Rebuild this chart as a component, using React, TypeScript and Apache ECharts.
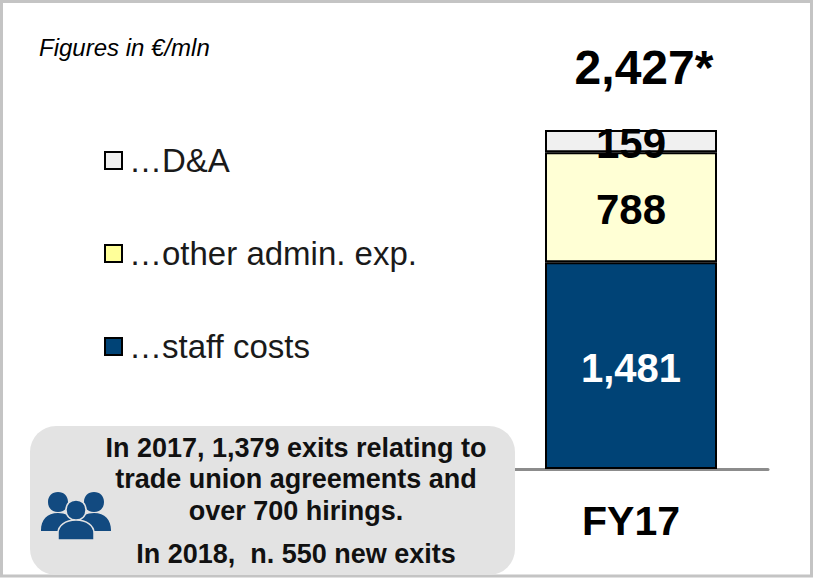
import React, { useEffect, useRef } from "react";
import * as echarts from "echarts";

const categories = ["FY17"];
const staffCosts = [1481];
const otherAdmin = [788];
const dna = [159];
const totalLabel = "2,427*";
const unitNote = "Figures in €/mln";
const noteLines = [
  "In 2017, 1,379 exits relating to",
  "trade union agreements and",
  "over 700 hirings.",
  "In 2018,  n. 550 new exits",
];
const noteLineY = [448, 479, 511, 554];

const FONT = "'Liberation Sans', Arial, sans-serif";
const BORDER = "#000000";

const outerPeopleD =
  "M17 0C23 0 27 4 27 10C27 16 23 20 17 20C11 20 7 16 7 10C7 4 11 0 17 0Z" +
  "M53 0C59 0 63 4 63 10C63 16 59 20 53 20C47 20 43 16 43 10C43 4 47 0 53 0Z" +
  "M0 38C0 28 6 21 17 21C24 21 30 24 33 30L33 39L0 39Z" +
  "M70 38C70 28 64 21 53 21C46 21 40 24 37 30L37 39L70 39Z";
const middlePersonD =
  "M35 7C41 7 45 11 45 17C45 23 41 27 35 27C29 27 25 23 25 17C25 11 29 7 35 7Z" +
  "M17 47L17 40C17 33 24 27 35 27C46 27 53 33 53 40L53 47Z";
echarts.graphic.registerShape("outerPeople", echarts.graphic.extendPath(outerPeopleD, {}) as any);
echarts.graphic.registerShape("middlePerson", echarts.graphic.extendPath(middlePersonD, {}) as any);

const fmt = (p: any) => Number(p.value).toLocaleString("en-US");

export default function App() {
  const ref = useRef<HTMLDivElement>(null);
  useEffect(() => {
    const chart = echarts.init(ref.current!, undefined, { renderer: "svg" });
    const seriesBase = {
      type: "bar" as const,
      stack: "total",
      barWidth: 172,
      itemStyle: { borderColor: BORDER, borderWidth: 2 },
    };
    const labelBase = {
      show: true,
      position: "inside" as const,
      offset: [0, 2],
      formatter: fmt,
      fontFamily: FONT,
      fontWeight: "bold" as const,
      fontSize: 42,
      textBorderWidth: 0,
    };
    chart.setOption({
      animation: false,
      backgroundColor: "#ffffff",
      grid: { left: 494, top: 130, width: 274, height: 339, containLabel: false },
      xAxis: {
        type: "category",
        data: categories,
        axisLine: { show: true, lineStyle: { color: "#8c8c8c", width: 3 } },
        axisTick: { show: false },
        axisLabel: {
          margin: 31,
          color: "#000000",
          fontFamily: FONT,
          fontWeight: "bold",
          fontSize: 41,
        },
      },
      yAxis: { type: "value", min: 0, max: 2428, show: false, splitLine: { show: false } },
      legend: {
        orient: "vertical",
        left: 99,
        top: 139,
        itemWidth: 17,
        itemHeight: 17,
        itemGap: 60,
        icon: "rect",
        data: [
          { name: "D&A", itemStyle: { color: "#f0f0f0", borderColor: BORDER, borderWidth: 2 } },
          { name: "other admin. exp.", itemStyle: { color: "#ffff99", borderColor: BORDER, borderWidth: 2 } },
          { name: "staff costs", itemStyle: { color: "#004376", borderColor: BORDER, borderWidth: 2 } },
        ],
        formatter: (name: string) => "…" + name,
        textStyle: {
          fontFamily: FONT,
          fontSize: 33,
          color: "#1a1a1a",
          padding: [0, 0, 0, 2],
        },
      },
      series: [
        {
          ...seriesBase,
          name: "staff costs",
          data: staffCosts,
          itemStyle: { ...seriesBase.itemStyle, color: "#004376" },
          label: { ...labelBase, color: "#ffffff", fontSize: 40 },
        },
        {
          ...seriesBase,
          name: "other admin. exp.",
          data: otherAdmin,
          itemStyle: { ...seriesBase.itemStyle, color: "#ffffd5" },
          label: { ...labelBase, color: "#000000" },
        },
        {
          ...seriesBase,
          name: "D&A",
          data: dna,
          itemStyle: { ...seriesBase.itemStyle, color: "#f0f0f0" },
          label: { ...labelBase, color: "#000000" },
        },
      ],
      graphic: [
        {
          type: "rect",
          z: -1,
          shape: { x: 1.5, y: 1.5, width: 810, height: 574.5 },
          style: { fill: "#ffffff", stroke: "#c4c4c4", lineWidth: 3 },
        },
        {
          type: "rect",
          z: 1,
          shape: { x: 30, y: 426, width: 485, height: 149, r: 26 },
          style: { fill: "#e3e3e3" },
        },
        {
          type: "outerPeople",
          z: 2,
          x: 41,
          y: 492,
          style: { fill: "#124a80" },
        },
        {
          type: "middlePerson",
          z: 3,
          x: 41,
          y: 493,
          style: { fill: "#124a80", stroke: "#e3e3e3", lineWidth: 1.5 },
        },
        {
          type: "text",
          z: 2,
          x: 39,
          y: 47,
          style: {
            text: unitNote,
            fontFamily: FONT,
            fontStyle: "italic",
            fontSize: 24,
            fill: "#000000",
            align: "left",
            verticalAlign: "middle",
          },
        },
        {
          type: "text",
          z: 2,
          x: 644,
          y: 67,
          style: {
            text: totalLabel,
            fontFamily: FONT,
            fontWeight: "bold",
            fontSize: 48,
            fill: "#000000",
            align: "center",
            verticalAlign: "middle",
          },
        },
        ...noteLines.map((line, i) => ({
          type: "text",
          z: 2,
          x: 296,
          y: noteLineY[i],
          style: {
            text: line,
            fontFamily: FONT,
            fontWeight: "bold",
            fontSize: 27,
            fill: "#111111",
            align: "center",
            verticalAlign: "middle",
          },
        })),
      ],
    });
    return () => chart.dispose();
  }, []);
  return (
    <div
      ref={ref}
      style={{ position: "absolute", left: 0, top: 0, width: 816, height: 578 }}
    />
  );
}
